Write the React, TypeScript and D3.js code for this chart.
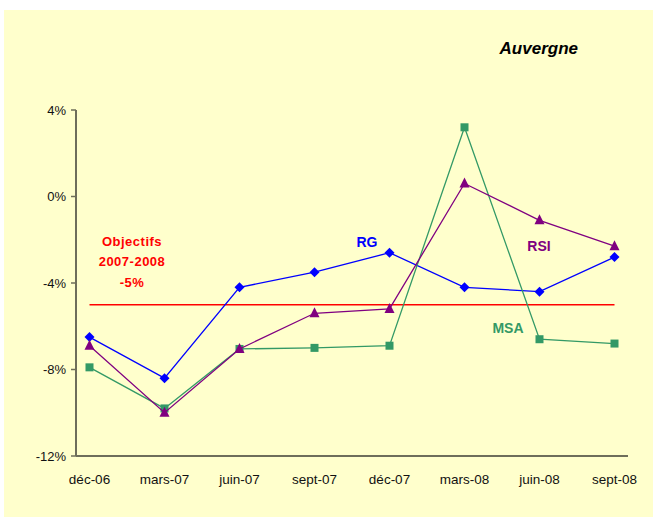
import React from "react";
import * as d3 from "d3";

const categories = ["déc-06", "mars-07", "juin-07", "sept-07", "déc-07", "mars-08", "juin-08", "sept-08"];
const rgValues = [-6.5, -8.4, -4.2, -3.5, -2.6, -4.2, -4.4, -2.8];
const rsiValues = [-6.9, -10.0, -7.05, -5.4, -5.2, 0.6, -1.1, -2.3];
const msaValues = [-7.9, -9.8, -7.05, -7.0, -6.9, 3.2, -6.6, -6.8];
const yTicks = [4, 0, -4, -8, -12];
const objective = -5;

const W = 653;
const H = 519;
const font = "'Liberation Sans', Arial, sans-serif";

export default function App() {
  const x = d3.scalePoint<string>().domain(categories).range([76, 628]).padding(0.18);
  const y = d3.scaleLinear().domain([-12, 4]).range([456, 110]);
  const line = d3
    .line<number>()
    .x((_, i) => x(categories[i]) as number)
    .y((d) => y(d));

  const series = [
    { name: "RG", values: rgValues, color: "#0000FF", marker: "diamond" },
    { name: "MSA", values: msaValues, color: "#339966", marker: "square" },
    { name: "RSI", values: rsiValues, color: "#800080", marker: "triangle" },
  ];

  const marker = (type: string, cx: number, cy: number, color: string, key: string) => {
    if (type === "diamond") {
      const s = 5;
      return <path key={key} d={`M${cx},${cy - s}L${cx + s},${cy}L${cx},${cy + s}L${cx - s},${cy}Z`} fill={color} />;
    }
    if (type === "square") {
      const s = 4;
      return <rect key={key} x={cx - s} y={cy - s} width={2 * s} height={2 * s} fill={color} />;
    }
    return <path key={key} d={`M${cx},${cy - 6}L${cx + 5},${cy + 4}L${cx - 5},${cy + 4}Z`} fill={color} />;
  };

  const x0 = x(categories[0]) as number;
  const x1 = x(categories[categories.length - 1]) as number;

  return (
    <svg width={W} height={H} style={{ position: "absolute", left: 0, top: 0 }}>
      <rect x={0} y={0} width={W} height={H} fill="#ffffff" />
      <rect x={4} y={10} width={W - 4} height={507} fill="#FFFFCC" />
      <text x={578} y={54} textAnchor="end" fontFamily={font} fontSize={17} fontWeight="bold" fontStyle="italic" fill="#000">
        Auvergne
      </text>
      {/* axes */}
      <line x1={76} y1={110} x2={76} y2={456} stroke="#6e6e5a" strokeWidth={2} />
      <line x1={76} y1={456} x2={628} y2={456} stroke="#6e6e5a" strokeWidth={2} />
      {yTicks.map((t) => (
        <g key={t}>
          <line x1={71} x2={76} y1={y(t)} y2={y(t)} stroke="#6e6e5a" strokeWidth={1.5} />
          <text x={66} y={y(t)} dy="0.35em" textAnchor="end" fontFamily={font} fontSize={13} fill="#111">
            {t}%
          </text>
        </g>
      ))}
      {categories.map((c) => (
        <text key={c} x={x(c) as number} y={484} textAnchor="middle" fontFamily={font} fontSize={13.5} fill="#111">
          {c}
        </text>
      ))}
      {/* objective line */}
      <line x1={x0} x2={x1} y1={y(objective)} y2={y(objective)} stroke="#FF0000" strokeWidth={1.5} />
      {series.map((s) => (
        <g key={s.name}>
          <path d={line(s.values) || ""} fill="none" stroke={s.color} strokeWidth={1.3} />
          {s.values.map((v, i) => marker(s.marker, x(categories[i]) as number, y(v), s.color, s.name + i))}
        </g>
      ))}
      <g fontFamily={font} fontWeight="bold" fontSize={13} fill="#FF0000" textAnchor="middle" letterSpacing={0.5}>
        <text x={132} y={246}>Objectifs</text>
        <text x={132} y={266}>2007-2008</text>
        <text x={132} y={287}>-5%</text>
      </g>
      <text x={367} y={247} textAnchor="middle" fontFamily={font} fontWeight="bold" fontSize={14} fill="#0000FF">RG</text>
      <text x={539} y={251} textAnchor="middle" fontFamily={font} fontWeight="bold" fontSize={14} fill="#800080">RSI</text>
      <text x={508} y={333} textAnchor="middle" fontFamily={font} fontWeight="bold" fontSize={14} fill="#339966">MSA</text>
    </svg>
  );
}
